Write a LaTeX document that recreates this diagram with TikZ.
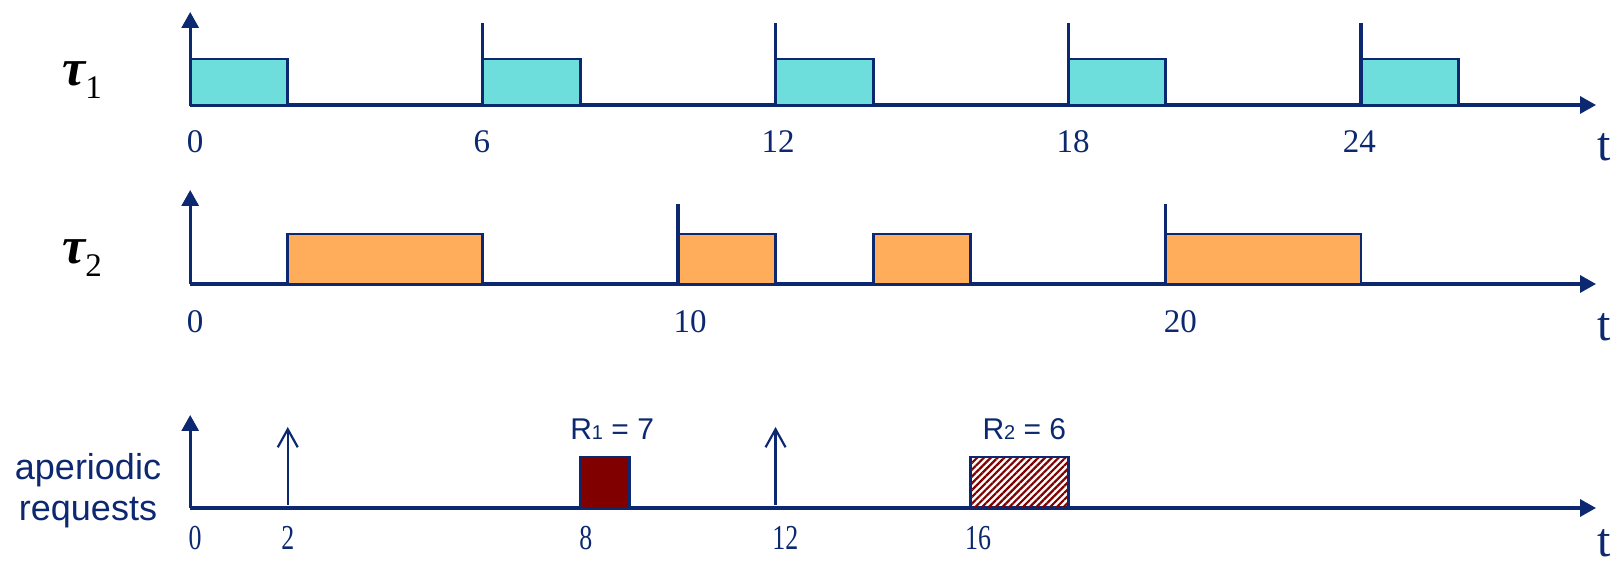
\documentclass[tikz,border=0pt]{standalone}
\usepackage{fontspec}
\setmainfont{Liberation Serif}
\newfontfamily\sansf{Liberation Sans}
\usetikzlibrary{arrows.meta,patterns.meta}
\definecolor{navy}{RGB}{12,40,112}
\definecolor{cyanfill}{RGB}{110,222,220}
\definecolor{orangefill}{RGB}{255,173,90}
\definecolor{darkred}{RGB}{128,0,0}
\tikzset{
 axisline/.style={draw=navy, line width=1.6pt},
 vaxis/.style={axisline, -{Triangle[length=8pt,width=8.5pt]}},
 haxis/.style={axisline, -{Triangle[length=8pt,width=8.5pt]}},
 tickline/.style={draw=navy,line width=1.6pt},
 jobone/.style={draw=navy,line width=1.4pt,fill=cyanfill},
 jobtwo/.style={draw=navy,line width=1.4pt,fill=orangefill},
 serv/.style={draw=navy,line width=1.4pt,fill=darkred},
 servhatch/.style={draw=navy,line width=1.4pt,pattern={Lines[angle=45,distance=2.4pt,line width=1.1pt]},pattern color=darkred},
 req/.style={draw=navy,line width=1.1pt,-{Straight Barb[length=9pt,width=10pt,line width=1.1pt]}},
 num/.style={text=navy,font=\fontsize{16.5}{16.5}\selectfont,inner sep=0pt},
 numc/.style={text=navy,font=\fontsize{17.5}{17.5}\selectfont,inner sep=0pt,xscale=0.74},
 tlabel/.style={text=navy,font=\fontsize{24}{24}\selectfont,inner sep=0pt},
 rlabel/.style={text=navy,font=\sansf\fontsize{15}{15}\selectfont,inner sep=0pt},
 tasklabel/.style={font=\fontsize{26}{26}\selectfont,inner sep=0pt,anchor=base west},
}
\begin{document}
\begin{tikzpicture}[x=0.5pt,y=-0.5pt]
\useasboundingbox (0,0) rectangle (1613,566);
% task labels
\node[tasklabel] (tau1) at (62,86) {{\bfseries\itshape τ}\raisebox{-6.5pt}{\fontsize{16.5}{16.5}\selectfont 1}};
\node[tasklabel] (tau2) at (62,264) {{\bfseries\itshape τ}\raisebox{-6.5pt}{\fontsize{16.5}{16.5}\selectfont 2}};
\node[text=navy,font=\sansf\fontsize{18}{20.5}\selectfont,align=center,anchor=base,inner sep=0pt] (aper) at (88,521) {aperiodic\\requests};

% row 1
\begin{scope}[shift={(190.2,105)},x=24.39pt]
 \coordinate (o1) at (0,0);
 \coordinate (y1) at (0,-93);
 \coordinate (x1) at (28.82,0);
 \draw[vaxis] (o1) -- (y1);
 \draw[haxis] (o1) -- (x1);
 \foreach \s in {0,6,12,18,24} \draw[jobone] (\s,0) rectangle (\s+2,-46);
 \foreach \s in {6,12,18,24} {
   \coordinate (ra\s) at (\s,0);
   \coordinate (rb\s) at (\s,-82);
   \draw[tickline] (ra\s) -- (rb\s);
 }
 \node[num] (a0) at (0.1,37) {0};
 \node[num] (a6) at (5.98,37) {6};
 \node[num] (a12) at (12.05,37) {12};
 \node[num] (a18) at (18.1,37) {18};
 \node[num] (a24) at (23.97,37) {24};
 \node[tlabel] (t1) at (28.98,42) {t};
\end{scope}

% row 2
\begin{scope}[shift={(190.2,284)},x=24.39pt]
 \coordinate (o2) at (0,0);
 \coordinate (y2) at (0,-94);
 \coordinate (x2) at (28.82,0);
 \draw[vaxis] (o2) -- (y2);
 \draw[haxis] (o2) -- (x2);
 \draw[jobtwo] (2,0) rectangle (6,-50);
 \draw[jobtwo] (10,0) rectangle (12,-50);
 \draw[jobtwo] (14,0) rectangle (16,-50);
 \draw[jobtwo] (20,0) rectangle (24,-50);
 \foreach \s in {10,20} {
   \coordinate (sa\s) at (\s,0);
   \coordinate (sb\s) at (\s,-80);
   \draw[tickline] (sa\s) -- (sb\s);
 }
 \node[num] (b0) at (0.1,38) {0};
 \node[num] (b10) at (10.25,38) {10};
 \node[num] (b20) at (20.3,38) {20};
 \node[tlabel] (t2) at (28.98,43) {t};
\end{scope}

% row 3
\begin{scope}[shift={(190.2,508)},x=24.39pt]
 \coordinate (o3) at (0,0);
 \coordinate (y3) at (0,-93);
 \coordinate (x3) at (28.82,0);
 \draw[vaxis] (o3) -- (y3);
 \draw[haxis] (o3) -- (x3);
 \coordinate (q2a) at (2,-3);
 \coordinate (q2b) at (2,-81);
 \coordinate (q12a) at (12,-3);
 \coordinate (q12b) at (12,-81);
 \draw[req] (q2a) -- (q2b);
 \draw[req] (q12a) -- (q12b);
 \draw[serv] (8,0) rectangle (9,-51);
 \draw[servhatch] (16,0) rectangle (18,-51);
 \node[rlabel] (r1) at (8.65,-79) {R{\fontsize{10}{10}\selectfont 1} = 7};
 \node[rlabel] (r2) at (17.1,-79) {R{\fontsize{10}{10}\selectfont 2} = 6};
 \node[numc] (c0) at (0.1,30) {0};
 \node[numc] (c2) at (2.0,30) {2};
 \node[numc] (c8) at (8.11,30) {8};
 \node[numc] (c12) at (12.2,30) {12};
 \node[numc] (c16) at (16.15,30) {16};
 \node[tlabel] (t3) at (28.98,35) {t};
\end{scope}
\end{tikzpicture}
\end{document}
